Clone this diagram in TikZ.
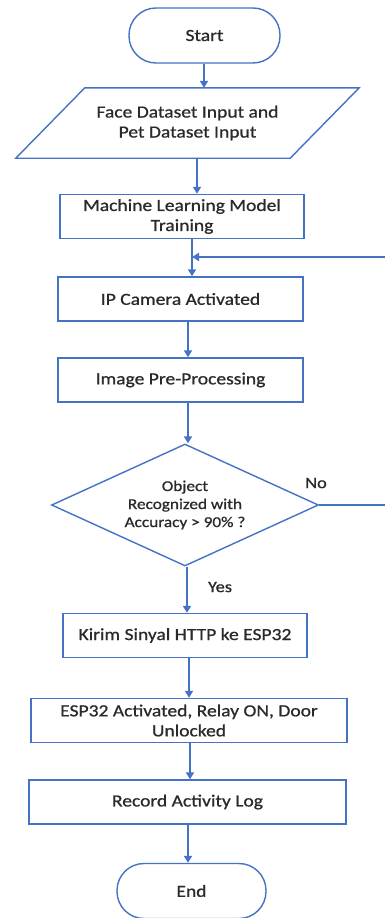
\documentclass[tikz,border=0pt]{standalone}
\usepackage{fontspec}
\setmainfont{Carlito}[FakeStretch=1.15,FakeBold=0.8]
\usetikzlibrary{shapes.geometric,arrows.meta}
\definecolor{obl}{HTML}{4472C4}
\definecolor{txt}{HTML}{2A2A2A}
\begin{document}
\begin{tikzpicture}[x=1pt,y=-1pt,
  every node/.style={font=\fontsize{17}{20}\selectfont, text=txt, align=center, inner sep=0pt},
  shapeline/.style={draw=obl, line width=1.4pt},
  box/.style={shapeline, rectangle, minimum height=44pt},
  term/.style={shapeline, rectangle, rounded corners=27pt, minimum height=55pt},
  arr/.style={draw=obl, line width=2.2pt, -{Triangle[length=7pt,width=8pt]}},
  lbl/.style={font=\fontsize{16}{19}\selectfont}]
\fill[white] (0,0) rectangle (385,918);
\useasboundingbox (0,0) rectangle (385,918);

\node[term, minimum width=151pt] (start) at (204.5,35.5) {Start};
\node[minimum width=274pt, minimum height=70pt] (inp) at (187.5,123) {Face Dataset Input and\\Pet Dataset Input};
\draw[shapeline] ([xshift=34.5pt]inp.north west) -- ([xshift=34.5pt]inp.north east)
  -- ([xshift=-34.5pt]inp.south east) -- ([xshift=-34.5pt]inp.south west) -- cycle;
\node[box, minimum width=244pt] (ml) at (182,216.5) {Machine Learning Model\\Training};
\node[box, minimum width=245pt] (ip) at (180.5,299) {IP Camera Activated};
\node[box, minimum width=245pt] (pre) at (180.5,380) {Image Pre-Processing};
\node[shapeline, diamond, aspect=2.19, minimum width=267pt, minimum height=122pt, font=\fontsize{15}{18}\selectfont] (dec) at (185,505) {Object\\Recognized with\\Accuracy > 90\% ?};
\node[box, minimum width=244pt] (kirim) at (185,635.5) {Kirim Sinyal HTTP ke ESP32};
\node[box, minimum width=316pt] (esp) at (189,720.5) {ESP32 Activated, Relay ON, Door\\Unlocked};
\node[box, minimum width=317pt] (rec) at (187.5,802) {Record Activity Log};
\node[term, minimum width=149pt] (end) at (191.5,891) {End};

\node[lbl] (no) at (316,483) {No};
\node[lbl] (yes) at (220,587) {Yes};
\coordinate (join) at (192,257);

\draw[arr] ([xshift=-0.5pt]start.south) -- ([xshift=-0.5pt]start.south |- inp.north);
\draw[arr] ([xshift=9.5pt]inp.south) -- ([xshift=9.5pt]inp.south |- ml.north);
\draw[draw=obl, line width=2.2pt] ([xshift=10pt]ml.south) -- (join);
\draw[arr] (join) -- (join |- ip.north);
\draw[arr] ([xshift=7.5pt]ip.south) -- ([xshift=7.5pt]ip.south |- pre.north);
\draw[arr] ([xshift=7.5pt]pre.south) -- ([xshift=7.5pt]pre.south |- dec.north);
\draw[arr] ([xshift=2pt]dec.south) -- ([xshift=2pt]dec.south |- kirim.north);
\draw[arr] ([xshift=4pt]kirim.south) -- ([xshift=4pt]kirim.south |- esp.north);
\draw[arr] ([xshift=1pt]esp.south) -- ([xshift=1pt]esp.south |- rec.north);
\draw[arr] ([xshift=0.5pt]rec.south) -- ([xshift=0.5pt]rec.south |- end.north);
\draw[arr] (dec.east) -- ++(80,0) |- (join);
\end{tikzpicture}
\end{document}
